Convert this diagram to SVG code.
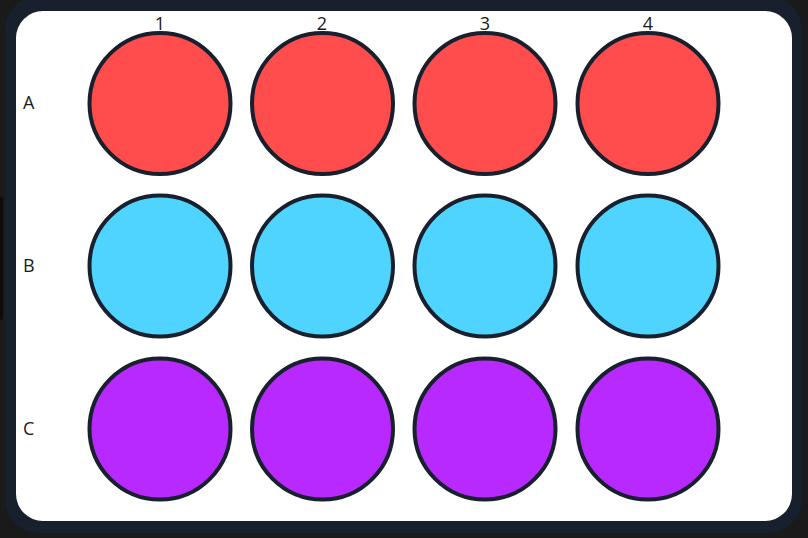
<svg xmlns="http://www.w3.org/2000/svg" width="808" height="538" viewBox="0 0 808 538">
<style>
.well{stroke:#17202c;stroke-width:4}
.a{fill:#ff4d4d}.b{fill:#4fd4ff}.c{fill:#b829ff}
.lbl{font-family:"Open Sans",sans-serif;font-size:18px;fill:#1a1a1a}
</style>
<rect x="0" y="0" width="808" height="538" fill="#1a1a1a"/>
<rect x="-6" y="197" width="9" height="123" rx="3" fill="#0c0c0c"/>
<rect x="5" y="-4" width="797" height="537" rx="34" fill="#17202c"/>
<rect x="16" y="11" width="776" height="510" rx="27" fill="#ffffff"/>
<g id="labels">
<text class="lbl" x="160" y="30" text-anchor="middle">1</text>
<text class="lbl" x="322" y="30" text-anchor="middle">2</text>
<text class="lbl" x="485" y="30" text-anchor="middle">3</text>
<text class="lbl" x="648" y="30" text-anchor="middle">4</text>
<text class="lbl" x="23" y="109">A</text>
<text class="lbl" x="23" y="272">B</text>
<text class="lbl" x="23" y="435">C</text>
</g>
<g id="connectors"></g>
<g id="A1"><circle class="well a" cx="160" cy="103.5" r="70.5"/></g>
<g id="A2"><circle class="well a" cx="322.5" cy="103.5" r="70.5"/></g>
<g id="A3"><circle class="well a" cx="485" cy="103.5" r="70.5"/></g>
<g id="A4"><circle class="well a" cx="648" cy="103.5" r="70.5"/></g>
<g id="B1"><circle class="well b" cx="160" cy="266" r="70.5"/></g>
<g id="B2"><circle class="well b" cx="322.5" cy="266" r="70.5"/></g>
<g id="B3"><circle class="well b" cx="485" cy="266" r="70.5"/></g>
<g id="B4"><circle class="well b" cx="648" cy="266" r="70.5"/></g>
<g id="C1"><circle class="well c" cx="160" cy="429" r="70.5"/></g>
<g id="C2"><circle class="well c" cx="322.5" cy="429" r="70.5"/></g>
<g id="C3"><circle class="well c" cx="485" cy="429" r="70.5"/></g>
<g id="C4"><circle class="well c" cx="648" cy="429" r="70.5"/></g>
</svg>
